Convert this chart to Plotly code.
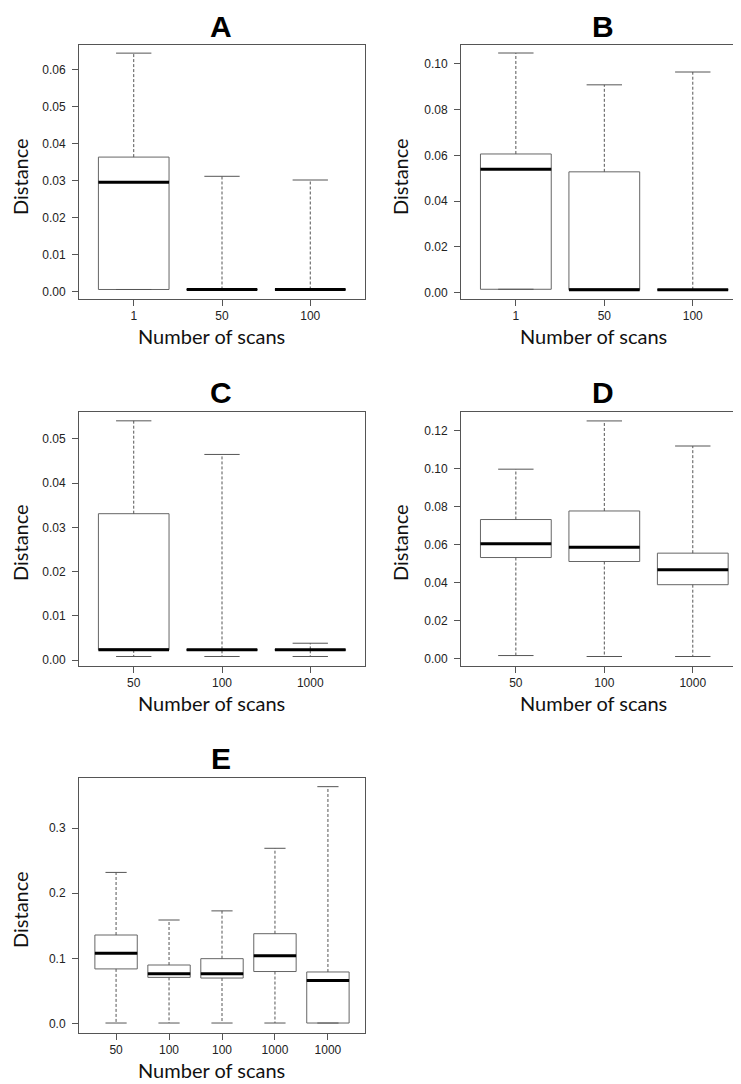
import plotly.graph_objects as go

# page body adds an 8px margin; lay the figure out in page pixels and shift
OFF = 8
PAGE_W, PAGE_H = 741, 1084
W, H = PAGE_W - OFF, PAGE_H - OFF

# ---------------- data ----------------
cats_A = ["1", "50", "100"]
A_min = [0.0006, 0.0006, 0.0006]
A_q1 = [0.0006, 0.0006, 0.0006]
A_med = [0.0296, 0.0006, 0.0006]
A_q3 = [0.0364, 0.0006, 0.0006]
A_max = [0.0645, 0.0312, 0.0302]

cats_B = ["1", "50", "100"]
B_min = [0.0015, 0.0013, 0.0013]
B_q1 = [0.0015, 0.0013, 0.0013]
B_med = [0.0539, 0.0013, 0.0013]
B_q3 = [0.0606, 0.0528, 0.0013]
B_max = [0.1047, 0.0908, 0.0964]

cats_C = ["50", "100", "1000"]
C_min = [0.0008, 0.0008, 0.0008]
C_q1 = [0.0023, 0.0022, 0.0022]
C_med = [0.0023, 0.0023, 0.0023]
C_q3 = [0.0331, 0.0024, 0.0024]
C_max = [0.0541, 0.0465, 0.0038]

cats_D = ["50", "100", "1000"]
D_min = [0.0016, 0.0011, 0.0011]
D_q1 = [0.0532, 0.0511, 0.0389]
D_med = [0.0605, 0.0586, 0.0467]
D_q3 = [0.0732, 0.0777, 0.0555]
D_max = [0.0997, 0.1251, 0.1119]

cats_E = ["50", "100", "100", "1000", "1000"]
E_min = [0.001, 0.001, 0.001, 0.001, 0.001]
E_q1 = [0.084, 0.071, 0.070, 0.080, 0.001]
E_med = [0.108, 0.0767, 0.0767, 0.104, 0.0664]
E_q3 = [0.136, 0.090, 0.0997, 0.138, 0.0793]
E_max = [0.232, 0.159, 0.173, 0.269, 0.3635]

y_ticks_A = [0.00, 0.01, 0.02, 0.03, 0.04, 0.05, 0.06]
y_ticks_B = [0.00, 0.02, 0.04, 0.06, 0.08, 0.10]
y_ticks_C = [0.00, 0.01, 0.02, 0.03, 0.04, 0.05]
y_ticks_D = [0.00, 0.02, 0.04, 0.06, 0.08, 0.10, 0.12]
y_ticks_E = [0.0, 0.1, 0.2, 0.3]

# ---------------- layout geometry (page pixels) ----------------
panels = [
    dict(name="A", cats=cats_A, mn=A_min, q1=A_q1, md=A_med, q3=A_q3, mx=A_max,
         px=(79, 365), py=(45, 299), yr=(-0.00197, 0.0667), xr=(0.38, 3.62),
         yt=y_ticks_A, fmt=".2f", title_xy=(221, 26), xt_xy=(211, 336), yt_xy=(20, 177)),
    dict(name="B", cats=cats_B, mn=B_min, q1=B_q1, md=B_med, q3=B_q3, mx=B_max,
         px=(461, 741), py=(45, 299), yr=(-0.00275, 0.1082), xr=(0.38, 3.545),
         yt=y_ticks_B, fmt=".2f", title_xy=(603, 26), xt_xy=(593, 336), yt_xy=(400, 177)),
    dict(name="C", cats=cats_C, mn=C_min, q1=C_q1, md=C_med, q3=C_q3, mx=C_max,
         px=(79, 365), py=(412, 666), yr=(-0.00135, 0.0561), xr=(0.38, 3.62),
         yt=y_ticks_C, fmt=".2f", title_xy=(221, 392), xt_xy=(211, 703), yt_xy=(20, 543)),
    dict(name="D", cats=cats_D, mn=D_min, q1=D_q1, md=D_med, q3=D_q3, mx=D_max,
         px=(461, 741), py=(412, 666), yr=(-0.0039, 0.1298), xr=(0.38, 3.545),
         yt=y_ticks_D, fmt=".2f", title_xy=(603, 392), xt_xy=(593, 703), yt_xy=(400, 543)),
    dict(name="E", cats=cats_E, mn=E_min, q1=E_q1, md=E_med, q3=E_q3, mx=E_max,
         px=(79, 365), py=(778, 1033), yr=(-0.0143, 0.3768), xr=(0.3, 5.7),
         yt=y_ticks_E, fmt=".1f", title_xy=(221, 758), xt_xy=(211, 1070), yt_xy=(20, 910)),
]


def fx(px):
    return min(max((px - OFF) / W, 0.0), 1.0)


def fy(py):
    return min(max(1 - (py - OFF) / H, 0.0), 1.0)


BOX_W = 0.8
CAP_HALF = BOX_W * 0.5 / 2
FRAME = "#555555"
BOXLINE = "#666666"
TICKFONT = dict(family="Liberation Sans, Arial, sans-serif", size=12, color="#222222")
LABELFONT = dict(family="Lato, Carlito, Calibri, sans-serif", size=20, color="#111111")
TITLEFONT = dict(family="Liberation Sans, Arial, sans-serif", size=30, color="#000000")

fig = go.Figure()
layout = dict(width=W, height=H, margin=dict(l=0, r=0, t=0, b=0),
              paper_bgcolor="white", plot_bgcolor="white", showlegend=False,
              annotations=[])

for k, p in enumerate(panels, start=1):
    xa = "x" if k == 1 else f"x{k}"
    ya = "y" if k == 1 else f"y{k}"
    pos = list(range(1, len(p["cats"]) + 1))

    # whiskers (dashed)
    wx, wy = [], []
    for i, x in enumerate(pos):
        wx += [x, x, None, x, x, None]
        wy += [p["q3"][i], p["mx"][i], None, p["q1"][i], p["mn"][i], None]
    fig.add_trace(go.Scatter(x=wx, y=wy, mode="lines", xaxis=xa, yaxis=ya,
                             line=dict(color=FRAME, width=1, dash="3px,2px"),
                             hoverinfo="skip"))
    # staples
    sx, sy = [], []
    for i, x in enumerate(pos):
        sx += [x - CAP_HALF, x + CAP_HALF, None, x - CAP_HALF, x + CAP_HALF, None]
        sy += [p["mx"][i], p["mx"][i], None, p["mn"][i], p["mn"][i], None]
    fig.add_trace(go.Scatter(x=sx, y=sy, mode="lines", xaxis=xa, yaxis=ya,
                             line=dict(color=FRAME, width=1), hoverinfo="skip"))
    # boxes
    fig.add_trace(go.Box(x=pos, q1=p["q1"], median=p["md"], q3=p["q3"],
                         lowerfence=p["q1"], upperfence=p["q3"],
                         width=BOX_W, whiskerwidth=0, boxpoints=False,
                         fillcolor="white", line=dict(color=BOXLINE, width=1),
                         xaxis=xa, yaxis=ya, hoverinfo="skip"))
    # medians (thick black)
    mx_, my_ = [], []
    for i, x in enumerate(pos):
        mx_ += [x - BOX_W / 2, x + BOX_W / 2, None]
        my_ += [p["md"][i], p["md"][i], None]
    fig.add_trace(go.Scatter(x=mx_, y=my_, mode="lines", xaxis=xa, yaxis=ya,
                             line=dict(color="black", width=3), hoverinfo="skip"))

    x0, x1 = p["px"]
    y0, y1 = p["py"]
    common = dict(showline=True, mirror=True, linecolor=FRAME, linewidth=1,
                  ticks="outside", ticklen=6, tickcolor=FRAME, tickwidth=1,
                  showgrid=False, zeroline=False, tickfont=TICKFONT, fixedrange=True)
    layout["xaxis" if k == 1 else f"xaxis{k}"] = dict(
        domain=[fx(x0), fx(x1)], anchor=ya, range=list(p["xr"]),
        tickmode="array", tickvals=pos, ticktext=p["cats"], **common)
    layout["yaxis" if k == 1 else f"yaxis{k}"] = dict(
        domain=[fy(y1), fy(y0)], anchor=xa, range=list(p["yr"]),
        tickmode="array", tickvals=p["yt"], tickformat=p["fmt"],
        ticklabelstandoff=4, **common)

    tx, ty = p["title_xy"]
    layout["annotations"].append(dict(text=f"<b>{p['name']}</b>", x=fx(tx), y=fy(ty),
                                      xref="paper", yref="paper", showarrow=False,
                                      xanchor="center", yanchor="middle", font=TITLEFONT))
    ax_, ay_ = p["xt_xy"]
    layout["annotations"].append(dict(text="Number of scans", x=fx(ax_), y=fy(ay_),
                                      xref="paper", yref="paper", showarrow=False,
                                      xanchor="center", yanchor="middle", font=LABELFONT))
    bx_, by_ = p["yt_xy"]
    layout["annotations"].append(dict(text="Distance", x=fx(bx_), y=fy(by_),
                                      xref="paper", yref="paper", showarrow=False,
                                      textangle=-90, xanchor="center", yanchor="middle",
                                      font=LABELFONT))

fig.update_layout(**layout)
fig.write_html("out.html")
